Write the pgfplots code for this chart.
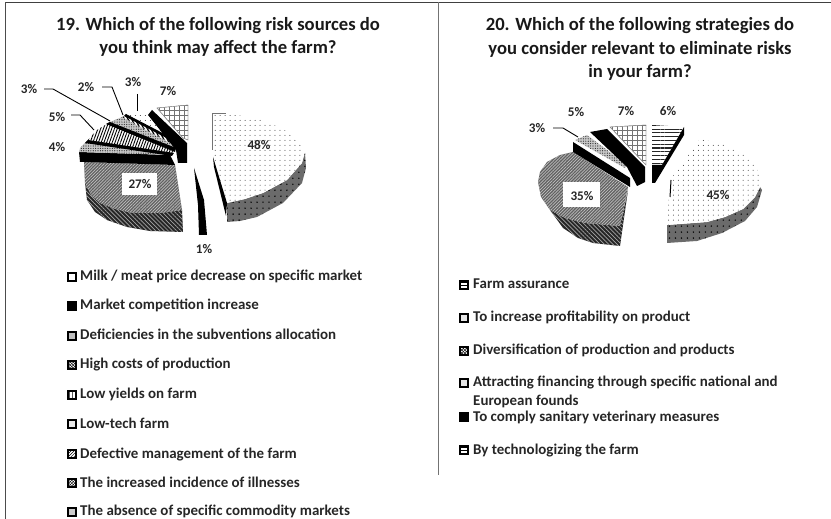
\documentclass[border=0pt]{standalone}
\usepackage{fontspec}
\setmainfont{Carlito}
\usepackage{pgfplots}
\pgfplotsset{compat=1.18}
\usetikzlibrary{patterns,patterns.meta}
\newcommand\poly[2]{\addplot[#1] coordinates {#2} --cycle;}
\newcommand\seg[2]{\addplot[#1] coordinates {#2};}
\tikzset{
 dotsw/.style={draw=none,preaction={fill=white},pattern={Dots[distance=5pt,radius=.5pt,xshift=1pt]},pattern color=black!80},
 dotsd/.style={draw=none,preaction={fill=black!58},pattern={Dots[distance=6pt,radius=.8pt]},pattern color=black},
 weavet/.style={draw=none,preaction={fill=black!62},pattern={Lines[angle=45,distance=2.2pt,line width=.7pt]},pattern color=black!25},
 weaved/.style={draw=none,preaction={fill=black!85},pattern={Lines[angle=-45,distance=3pt,line width=.7pt]},pattern color=black!35},
 gridl/.style={draw=black!45,line width=.4pt,preaction={fill=white},pattern={Hatch[angle=0,distance=5pt,line width=.7pt]},pattern color=black!55},
 hlines/.style={draw=none,preaction={fill=white},pattern={Lines[angle=0,distance=3.8pt,line width=1.1pt]},pattern color=black!85},
 vlines/.style={draw=none,preaction={fill=white},pattern={Lines[angle=70,distance=2.6pt,line width=.9pt]},pattern color=black},
 dotg/.style={draw=none,preaction={fill=black!22},pattern={Dots[distance=2.4pt,radius=.6pt]},pattern color=black!85},
 dashb/.style={draw=none,preaction={fill=white},pattern={Lines[angle=-60,distance=3pt,line width=1.2pt]},pattern color=black},
 bk/.style={draw=none,fill=black},
 lead/.style={black,line width=.9pt},
 lab/.style={font=\fontsize{13.2}{15}\selectfont\bfseries,inner sep=0pt,text=black!85},
 leg/.style={font=\fontsize{15}{17}\selectfont\bfseries,anchor=base west,inner sep=0pt,text=black!85},
 ttl/.style={font=\fontsize{18.7}{22}\selectfont\bfseries,inner sep=0pt,anchor=base,text=black!90},
 mk/.style={draw=black,line width=1.1pt},
}
% legend key: y top, y bottom, x left, x right, style
\newcommand\lgm[5]{\addplot[mk,#5] coordinates {(#3,#1) (#4,#1) (#4,#2) (#3,#2)} --cycle;}
\begin{document}
\begin{tikzpicture}[x=1bp,y=1bp]
\useasboundingbox (0,0) rectangle (831,519);
\begin{axis}[at={(0,0)},anchor=south west,scale only axis,width=831bp,height=519bp,
 xmin=0,xmax=831,ymin=0,ymax=519,y dir=reverse,hide axis,clip=false]
% frame
\seg{black!75,line width=1.1pt}{(5.5,2.5) (831,2.5)}
\seg{black!70,line width=1.2pt}{(5.5,2.5) (5.5,519)}
\seg{black!55,line width=.7pt}{(438,2.5) (438,475)}
% titles
\node[ttl] at (axis cs:218,31) {19. Which of the following risk sources do};
\node[ttl] at (axis cs:218,54) {you think may affect the farm?};
\node[ttl] at (axis cs:640,31) {20. Which of the following strategies do};
\node[ttl] at (axis cs:640,55) {you consider relevant to eliminate risks};
\node[ttl] at (axis cs:640,78) {in your farm?};
% left pie
\poly{gridl}{(157,108) (188,105) (188,140) (183,138)}
\poly{dotsd}{(227,203) (245,199) (263,193) (287,180) (302,163) (305,153) (306,168) (302,183) (283,203) (257,217) (240,221) (227,222)}
\poly{dotsw}{(212,113) (237,115) (255,118) (270,123) (290,133) (300,143) (304,152) (302,163) (287,180) (263,193) (245,199) (227,203) (213,157)}
\poly{bk}{(213,157) (227,203) (226,216) (214,167)}
\seg{black!55,line width=.9pt}{(212,150) (212,113) (226,113)}
\poly{bk}{(194,168) (204,200) (207,235) (199,235) (198,205)}
\poly{weaved}{(85,183) (91,195) (100,203) (115,209) (133,213) (160,213) (182,210) (183,232) (150,231) (127,227) (107,220) (95,212) (87,200)}
\poly{weavet}{(84,162) (175,165) (182,210) (160,213) (133,213) (115,209) (100,203) (91,195) (85,183)}
\poly{bk}{(79,152) (170,155) (175,165) (84,162) (80,162)}
\poly{dotg}{(80,148) (88,140) (172,155) (79,152)}
\poly{vlines}{(88,140) (97,130) (110,122) (174,150) (172,155)}
\poly{bk}{(88,140) (174,153) (172,156) (85,143)}
\poly{dotg}{(110,122) (122,117) (176,146) (174,150)}
\poly{bk}{(110,122) (176,148) (175,152) (106,124)}
\poly{dashb}{(122,117) (128,115) (178,142) (176,146)}
\poly{dotsw}{(128,115) (137,111) (150,112) (180,140) (178,142)}
\poly{bk}{(126,114) (178,141) (178,144) (124,116)}
\poly{bk}{(152,110) (187,143) (187,163) (178,163) (176,150) (148,115)}
% leaders left
\seg{lead}{(44,89) (53,89) (110,121)}
\seg{lead}{(102,87) (112,87) (123,115)}
\seg{lead}{(137,94) (137,111)}
\seg{lead}{(71,115) (80,115) (94,130)}
% left labels
\node[lab] at (axis cs:29,89) {3\%};
\node[lab] at (axis cs:86,87) {2\%};
\node[lab] at (axis cs:133,82) {3\%};
\node[lab] at (axis cs:168,91) {7\%};
\node[lab] at (axis cs:57,117) {5\%};
\node[lab] at (axis cs:57,147) {4\%};
\poly{draw=none,fill=white}{(122,173) (157,173) (157,195) (122,195)}
\node[lab] at (axis cs:140,184) {27\%};
\node[lab] at (axis cs:259,145) {48\%};
\node[lab] at (axis cs:204,249) {1\%};
% right pie
\poly{dotsd}{(667,225) (707,222) (725,217) (743,209) (755,197) (760,187) (762,190) (757,207) (745,221) (722,233) (697,241) (667,243)}
\poly{dotsw}{(700,139) (718,143) (733,148) (748,158) (758,170) (761,180) (760,187) (755,197) (743,209) (725,217) (707,222) (667,225) (670,180) (687,157)}
\seg{black,line width=1pt}{(671,180) (670,197)}
\poly{weaved}{(550,210) (565,218) (585,223) (620,226) (628,190) (620,246) (593,243) (578,238) (563,228)}
\poly{weavet}{(573,152) (628,187) (620,226) (585,223) (565,218) (550,210) (541,197) (538,182) (540,172) (547,162) (560,155)}
\poly{bk}{(573,142) (630,178) (630,187) (573,152)}
\poly{dotg}{(575,140) (587,135) (627,165) (625,168)}
\poly{gridl}{(610,127) (646,125) (646,165)}
\poly{bk}{(590,132) (607,129) (645,167) (645,182) (637,186) (627,167)}
\poly{hlines}{(652,125) (684,127) (662,165) (652,165)}
\poly{bk}{(684,127) (684,135) (655,183) (652,183) (652,165) (662,165)}
\seg{lead}{(553,128) (563,128) (578,137)}
\node[lab] at (axis cs:537,128) {3\%};
\node[lab] at (axis cs:576,112) {5\%};
\node[lab] at (axis cs:626,111) {7\%};
\node[lab] at (axis cs:668,111) {6\%};
\poly{draw=none,fill=white}{(563,182) (600,182) (600,207) (563,207)}
\node[lab] at (axis cs:582,196) {35\%};
\node[lab] at (axis cs:718,195) {45\%};
% left legend
\lgm{273}{281}{68}{76}{fill=white}
\lgm{302}{310}{68}{76}{fill=black}
\lgm{332}{340}{68}{76}{fill=black!25}
\lgm{361}{369}{68}{76}{pattern=crosshatch}
\lgm{391}{399}{68}{76}{pattern=vertical lines}
\lgm{420}{428}{68}{76}{fill=black!8}
\lgm{450}{458}{68}{76}{pattern=north east lines}
\lgm{479}{487}{68}{76}{pattern=crosshatch}
\lgm{508}{516}{68}{76}{fill=black!20}
\node[leg] at (axis cs:80,281) {Milk / meat price decrease on specific market};
\node[leg] at (axis cs:80,310) {Market competition increase};
\node[leg] at (axis cs:80,340) {Deficiencies in the subventions allocation};
\node[leg] at (axis cs:80,369) {High costs of production};
\node[leg] at (axis cs:80,399) {Low yields on farm};
\node[leg] at (axis cs:80,428) {Low-tech farm};
\node[leg] at (axis cs:80,458) {Defective management of the farm};
\node[leg] at (axis cs:80,487) {The increased incidence of illnesses};
\node[leg] at (axis cs:80,515) {The absence of specific commodity markets};
% right legend
\lgm{281}{289}{460}{468}{pattern=horizontal lines}
\lgm{314}{322}{460}{468}{fill=black!10}
\lgm{347}{355}{460}{468}{pattern=crosshatch}
\lgm{379}{387}{460}{468}{fill=black!10}
\lgm{413}{421}{460}{468}{fill=black}
\lgm{446}{454}{460}{468}{pattern=horizontal lines}
\node[leg] at (axis cs:473,289) {Farm assurance};
\node[leg] at (axis cs:473,322) {To increase profitability on product};
\node[leg] at (axis cs:473,355) {Diversification of production and products};
\node[leg] at (axis cs:473,387) {Attracting financing through specific national and};
\node[leg] at (axis cs:473,406) {European founds};
\node[leg] at (axis cs:473,421) {To comply sanitary veterinary measures};
\node[leg] at (axis cs:473,454) {By technologizing the farm};
\end{axis}
\end{tikzpicture}
\end{document}
